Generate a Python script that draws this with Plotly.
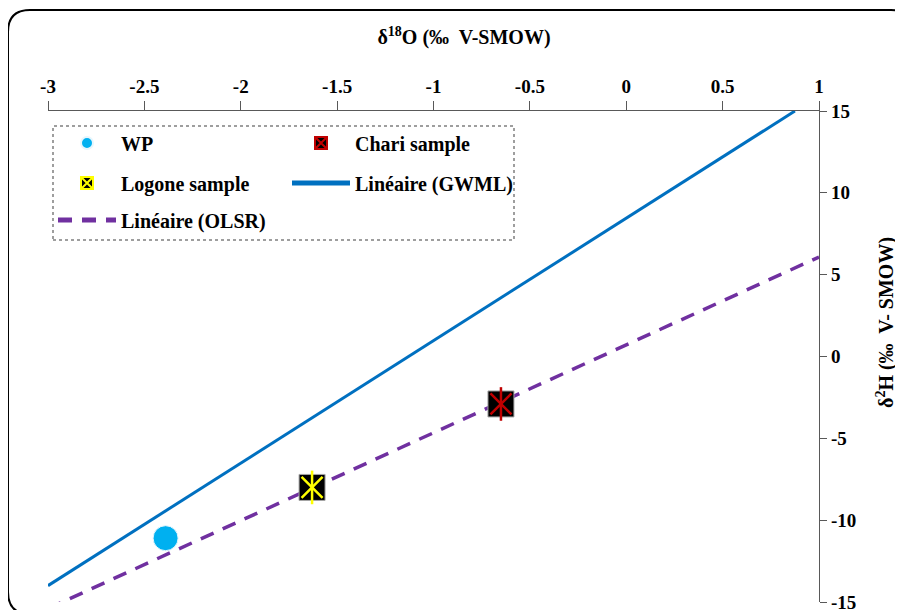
import plotly.graph_objects as go

# ---------------- data ----------------
wp_x = [-2.39]
wp_y = [-11.1]

chari_x = [-0.65]
chari_y = [-2.9]

logone_x = [-1.63]
logone_y = [-8.0]

gwml_x = [-3.0, 0.875]
gwml_y = [-14.0, 15.0]

olsr_x = [-3.0, 1.0]
olsr_y = [-15.4, 6.08]

x_ticks = [-3, -2.5, -2, -1.5, -1, -0.5, 0, 0.5, 1]
x_tick_labels = ["-3", "-2.5", "-2", "-1.5", "-1", "-0.5", "0", "0.5", "1"]
y_ticks = [-15, -10, -5, 0, 5, 10, 15]
y_tick_labels = ["-15", "-10", "-5", "0", "5", "10", "15"]

# ---------------- layout geometry ----------------
# page offset of the plot div (default body margin)
OFF = 8
W, H = 903 - OFF, 610 - OFF
# plot area in page pixels: x 48..819, y 111..602
PX0, PX1, PY0, PY1 = 48, 819, 111, 602
L, T = PX0 - OFF, PY0 - OFF
R, B = W - (PX1 - OFF), H - (PY1 - OFF)
PW, PH = PX1 - PX0, PY1 - PY0


def px(x):  # page pixel -> paper x
    return (x - PX0) / PW


def py(y):  # page pixel -> paper y
    return (PY1 - y) / PH


FONT = "Liberation Serif, Times New Roman, serif"
AX = "#595959"

fig = go.Figure()

# Trend lines
fig.add_trace(go.Scatter(x=gwml_x, y=gwml_y, mode="lines", name="Linéaire (GWML)",
                         line=dict(color="#0070C0", width=3), legend="legend2",
                         legendrank=4))
fig.add_trace(go.Scatter(x=olsr_x, y=olsr_y, mode="lines", name="Linéaire (OLSR)",
                         line=dict(color="#7030A0", width=3.5, dash="14px,10px"),
                         legend="legend3", legendrank=5))

# WP
fig.add_trace(go.Scatter(x=wp_x, y=wp_y, mode="markers", name="WP",
                         marker=dict(symbol="circle", size=25, color="#00B0F0",
                                     line=dict(color="#E6F6FD", width=1)),
                         legend="legend", legendrank=1))


def sample(xs, ys, name, star_color, legend, rank):
    fig.add_trace(go.Scatter(x=xs, y=ys, mode="markers", showlegend=False, legendgroup=name,
                             marker=dict(symbol="square", size=26, color="black",
                                         line=dict(color="#A6A6A6", width=1))))
    fig.add_trace(go.Scatter(x=xs, y=ys, mode="markers", showlegend=False, legendgroup=name,
                             marker=dict(symbol="x-thin-open", size=21, color=star_color,
                                         line=dict(color=star_color, width=2.5))))
    fig.add_trace(go.Scatter(x=xs, y=ys, mode="markers", showlegend=False, legendgroup=name,
                             marker=dict(symbol="line-ns-open", size=24, color=star_color,
                                         line=dict(color=star_color, width=2.5))))
    # legend entry
    fig.add_trace(go.Scatter(x=[None], y=[None], mode="markers", name=name, legendgroup=name,
                             marker=dict(symbol="square-x", size=12, color="black",
                                         line=dict(color=star_color, width=1.5)),
                             legend=legend, legendrank=rank))


sample(chari_x, chari_y, "Chari sample", "#C00000", "legend", 2)
sample(logone_x, logone_y, "Logone sample", "#FFFF00", "legend2", 3)

leg_common = dict(orientation="h", xanchor="left", yanchor="middle", x=px(53),
                  bgcolor="rgba(0,0,0,0)", borderwidth=0, itemwidth=58,
                  entrywidth=161, entrywidthmode="pixels", itemsizing="constant",
                  traceorder="normal",
                  font=dict(family=FONT, size=20, color="black", weight="bold"))

# rounded outer border (page pixels)
r = 22
x0, y0, x1, y1 = 8, 10, 913, 614
path = (f"M {px(x0)},{py(y0 + r)} Q {px(x0)},{py(y0)} {px(x0 + r)},{py(y0)} "
        f"L {px(x1 - r)},{py(y0)} Q {px(x1)},{py(y0)} {px(x1)},{py(y0 + r)} "
        f"L {px(x1)},{py(y1 - r)} Q {px(x1)},{py(y1)} {px(x1 - r)},{py(y1)} "
        f"L {px(x0 + r)},{py(y1)} Q {px(x0)},{py(y1)} {px(x0)},{py(y1 - r)} Z")

tickfont = dict(family=FONT, size=19, color="black", weight="bold")

fig.update_layout(
    template="none",
    width=W, height=H, autosize=False,
    margin=dict(l=L, r=R, t=T, b=B, pad=0),
    paper_bgcolor="white", plot_bgcolor="white",
    font=dict(family=FONT, size=19, color="black", weight="bold"),
    title=dict(text="δ<sup>18</sup>O (‰  V-SMOW)", xref="container", yref="container",
               x=(464 - OFF) / W, y=1 - (37 - OFF) / H, xanchor="center", yanchor="middle",
               font=dict(family=FONT, size=20, color="black", weight="bold")),
    xaxis=dict(range=[-3, 1], side="top", tickvals=x_ticks, ticktext=x_tick_labels,
               ticks="outside", ticklen=9, tickcolor=AX, tickwidth=1.2,
               showline=True, linecolor=AX, linewidth=1.3, showgrid=False, zeroline=False,
               automargin=False, ticklabeloverflow="allow", tickfont=tickfont),
    yaxis=dict(range=[-15, 15], side="right", tickvals=y_ticks, ticktext=y_tick_labels,
               ticks="outside", ticklen=7, tickcolor=AX, tickwidth=1.2,
               showline=True, linecolor=AX, linewidth=1.3, showgrid=False, zeroline=False,
               automargin=False, ticklabeloverflow="allow", tickfont=tickfont),
    legend=dict(leg_common, y=py(143)),
    legend2=dict(leg_common, y=py(183)),
    legend3=dict(leg_common, y=py(220)),
    shapes=[
        dict(type="rect", xref="paper", yref="paper", x0=px(53), x1=px(514),
             y0=py(240), y1=py(126), line=dict(color="#7F7F7F", width=1.5, dash="dot"),
             fillcolor="rgba(0,0,0,0)", layer="below"),
        dict(type="path", xref="paper", yref="paper", path=path,
             line=dict(color="black", width=2), fillcolor="rgba(0,0,0,0)"),
    ],
    annotations=[
        dict(text="δ<sup>2</sup>H (‰  V- SMOW)", xref="paper", yref="paper",
             x=px(885), y=py(322), textangle=-90, showarrow=False,
             xanchor="center", yanchor="middle",
             font=dict(family=FONT, size=20, color="black", weight="bold")),
    ],
)

fig.write_html("out.html")
